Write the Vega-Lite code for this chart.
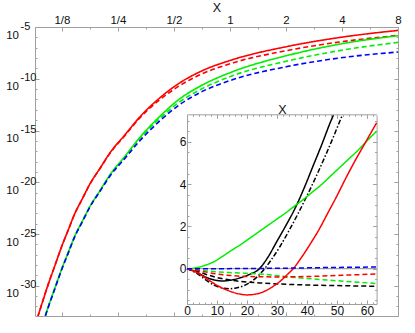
{
  "$schema": "https://vega.github.io/schema/vega-lite/v6.json",
  "width": 363,
  "height": 289,
  "autosize": {"type": "none"},
  "padding": {"left": 35, "top": 27, "right": 17, "bottom": 17},
  "background": "white",
  "config": {
    "view": {"stroke": null},
    "axis": {"domainColor": "#a0a0a0", "tickColor": "#a0a0a0", "labelColor": "#111111", "titleColor": "#111111", "labelFont": "Liberation Sans", "titleFont": "Liberation Sans", "titleFontWeight": "normal", "labelFontSize": 11.5, "titleFontSize": 12.5, "grid": false, "labelOverlap": false, "labelFlush": false}
  },
  "datasets": {
    "main": [
      {"curve": "red", "x": 8.0, "y": 4.69e-6}, {"curve": "red", "x": 4.05, "y": 1.08e-6}, {"curve": "red", "x": 2.03, "y": 1.30e-7}, {"curve": "red", "x": 1.039, "y": 7.19e-9}, {"curve": "red", "x": 0.6906, "y": 4.75e-10}, {"curve": "red", "x": 0.5325, "y": 3.59e-11}, {"curve": "red", "x": 0.421, "y": 1.49e-12}, {"curve": "red", "x": 0.3287, "y": 2.16e-14}, {"curve": "red", "x": 0.273, "y": 3.93e-16}, {"curve": "red", "x": 0.2267, "y": 7.13e-18}, {"curve": "red", "x": 0.2003, "y": 2.26e-19}, {"curve": "red", "x": 0.177, "y": 7.16e-21}, {"curve": "red", "x": 0.1603, "y": 2.22e-22}, {"curve": "red", "x": 0.147, "y": 1.05e-23}, {"curve": "red", "x": 0.1348, "y": 2.13e-25}, {"curve": "red", "x": 0.1247, "y": 6.32e-27}, {"curve": "red", "x": 0.1148, "y": 9.62e-29}, {"curve": "red", "x": 0.1053, "y": 1.22e-30}, {"curve": "red", "x": 0.0989, "y": 3.87e-32}, {"curve": "red", "x": 0.0927, "y": 1.00e-33}, {"curve": "red", "x": 0.0896, "y": 1.62e-34},
      {"curve": "red dashed", "x": 8.0, "y": 1.54e-6}, {"curve": "red dashed", "x": 4.05, "y": 3.96e-7}, {"curve": "red dashed", "x": 2.03, "y": 5.33e-8}, {"curve": "red dashed", "x": 1.039, "y": 3.45e-9}, {"curve": "red dashed", "x": 0.6906, "y": 2.44e-10}, {"curve": "red dashed", "x": 0.5325, "y": 1.97e-11}, {"curve": "red dashed", "x": 0.421, "y": 9.95e-13}, {"curve": "red dashed", "x": 0.3287, "y": 1.73e-14}, {"curve": "red dashed", "x": 0.273, "y": 3.36e-16}, {"curve": "red dashed", "x": 0.2267, "y": 6.38e-18}, {"curve": "red dashed", "x": 0.2003, "y": 2.11e-19}, {"curve": "red dashed", "x": 0.177, "y": 6.85e-21}, {"curve": "red dashed", "x": 0.1603, "y": 2.17e-22}, {"curve": "red dashed", "x": 0.147, "y": 1.05e-23}, {"curve": "red dashed", "x": 0.1348, "y": 2.13e-25}, {"curve": "red dashed", "x": 0.1247, "y": 6.32e-27}, {"curve": "red dashed", "x": 0.1148, "y": 9.62e-29}, {"curve": "red dashed", "x": 0.1053, "y": 1.22e-30}, {"curve": "red dashed", "x": 0.0989, "y": 3.87e-32}, {"curve": "red dashed", "x": 0.0927, "y": 1.00e-33}, {"curve": "red dashed", "x": 0.0896, "y": 1.62e-34},
      {"curve": "green", "x": 8.0, "y": 1.44e-6}, {"curve": "green", "x": 4.05, "y": 2.54e-7}, {"curve": "green", "x": 2.03, "y": 1.75e-8}, {"curve": "green", "x": 1.039, "y": 4.97e-10}, {"curve": "green", "x": 0.6906, "y": 1.88e-11}, {"curve": "green", "x": 0.5325, "y": 1.02e-12}, {"curve": "green", "x": 0.421, "y": 2.42e-14}, {"curve": "green", "x": 0.3287, "y": 2.25e-16}, {"curve": "green", "x": 0.273, "y": 3.27e-18}, {"curve": "green", "x": 0.2267, "y": 5.31e-20}, {"curve": "green", "x": 0.2003, "y": 1.57e-21}, {"curve": "green", "x": 0.177, "y": 4.78e-23}, {"curve": "green", "x": 0.1603, "y": 1.48e-24}, {"curve": "green", "x": 0.147, "y": 7.00e-26}, {"curve": "green", "x": 0.1348, "y": 1.42e-27}, {"curve": "green", "x": 0.1247, "y": 4.22e-29}, {"curve": "green", "x": 0.1148, "y": 6.41e-31}, {"curve": "green", "x": 0.1053, "y": 8.15e-33}, {"curve": "green", "x": 0.0989, "y": 2.58e-34},
      {"curve": "green dashed", "x": 8.0, "y": 3.24e-7}, {"curve": "green dashed", "x": 4.05, "y": 5.97e-8}, {"curve": "green dashed", "x": 2.03, "y": 5.15e-9}, {"curve": "green dashed", "x": 1.039, "y": 2.04e-10}, {"curve": "green dashed", "x": 0.6906, "y": 8.63e-12}, {"curve": "green dashed", "x": 0.5325, "y": 5.22e-13}, {"curve": "green dashed", "x": 0.421, "y": 1.55e-14}, {"curve": "green dashed", "x": 0.3287, "y": 1.80e-16}, {"curve": "green dashed", "x": 0.273, "y": 2.92e-18}, {"curve": "green dashed", "x": 0.2267, "y": 4.97e-20}, {"curve": "green dashed", "x": 0.2003, "y": 1.51e-21}, {"curve": "green dashed", "x": 0.177, "y": 4.78e-23}, {"curve": "green dashed", "x": 0.1603, "y": 1.48e-24}, {"curve": "green dashed", "x": 0.147, "y": 7.00e-26}, {"curve": "green dashed", "x": 0.1348, "y": 1.42e-27}, {"curve": "green dashed", "x": 0.1247, "y": 4.22e-29}, {"curve": "green dashed", "x": 0.1148, "y": 6.41e-31}, {"curve": "green dashed", "x": 0.1053, "y": 8.15e-33}, {"curve": "green dashed", "x": 0.0989, "y": 2.58e-34},
      {"curve": "blue dashed", "x": 8.0, "y": 3.82e-8}, {"curve": "blue dashed", "x": 4.05, "y": 1.12e-8}, {"curve": "blue dashed", "x": 2.03, "y": 1.51e-9}, {"curve": "blue dashed", "x": 1.039, "y": 8.38e-11}, {"curve": "blue dashed", "x": 0.6906, "y": 4.62e-12}, {"curve": "blue dashed", "x": 0.5325, "y": 2.86e-13}, {"curve": "blue dashed", "x": 0.421, "y": 8.87e-15}, {"curve": "blue dashed", "x": 0.3287, "y": 1.08e-16}, {"curve": "blue dashed", "x": 0.273, "y": 2.09e-18}, {"curve": "blue dashed", "x": 0.2267, "y": 4.06e-20}, {"curve": "blue dashed", "x": 0.2003, "y": 1.35e-21}, {"curve": "blue dashed", "x": 0.177, "y": 4.28e-23}, {"curve": "blue dashed", "x": 0.1603, "y": 1.32e-24}, {"curve": "blue dashed", "x": 0.147, "y": 6.27e-26}, {"curve": "blue dashed", "x": 0.1348, "y": 1.27e-27}, {"curve": "blue dashed", "x": 0.1247, "y": 3.77e-29}, {"curve": "blue dashed", "x": 0.1148, "y": 5.73e-31}, {"curve": "blue dashed", "x": 0.1053, "y": 7.29e-33}, {"curve": "blue dashed", "x": 0.0989, "y": 2.31e-34}
    ],
    "inset": [
      {"curve": "black", "x": 0, "y": 0}, {"curve": "black", "x": 3, "y": -0.15}, {"curve": "black", "x": 6, "y": -0.38}, {"curve": "black", "x": 9, "y": -0.53}, {"curve": "black", "x": 12, "y": -0.58}, {"curve": "black", "x": 15, "y": -0.53}, {"curve": "black", "x": 18, "y": -0.42}, {"curve": "black", "x": 21, "y": -0.26}, {"curve": "black", "x": 24, "y": -0.02}, {"curve": "black", "x": 27, "y": 0.55}, {"curve": "black", "x": 30, "y": 1.3}, {"curve": "black", "x": 33, "y": 2.05}, {"curve": "black", "x": 36, "y": 2.85}, {"curve": "black", "x": 39, "y": 3.8}, {"curve": "black", "x": 42, "y": 4.85}, {"curve": "black", "x": 45, "y": 5.9}, {"curve": "black", "x": 48, "y": 7.0}, {"curve": "black", "x": 48.8, "y": 7.26},
      {"curve": "black dash-dot", "x": 0, "y": 0}, {"curve": "black dash-dot", "x": 3, "y": -0.2}, {"curve": "black dash-dot", "x": 6, "y": -0.5}, {"curve": "black dash-dot", "x": 9, "y": -0.78}, {"curve": "black dash-dot", "x": 12, "y": -0.92}, {"curve": "black dash-dot", "x": 14, "y": -0.95}, {"curve": "black dash-dot", "x": 16, "y": -0.92}, {"curve": "black dash-dot", "x": 19, "y": -0.8}, {"curve": "black dash-dot", "x": 22, "y": -0.55}, {"curve": "black dash-dot", "x": 25, "y": -0.15}, {"curve": "black dash-dot", "x": 28, "y": 0.4}, {"curve": "black dash-dot", "x": 31, "y": 1.05}, {"curve": "black dash-dot", "x": 34, "y": 1.8}, {"curve": "black dash-dot", "x": 37, "y": 2.6}, {"curve": "black dash-dot", "x": 40, "y": 3.45}, {"curve": "black dash-dot", "x": 43, "y": 4.35}, {"curve": "black dash-dot", "x": 46, "y": 5.3}, {"curve": "black dash-dot", "x": 49, "y": 6.3}, {"curve": "black dash-dot", "x": 51, "y": 7.0}, {"curve": "black dash-dot", "x": 51.8, "y": 7.26},
      {"curve": "black dashed", "x": 0, "y": 0}, {"curve": "black dashed", "x": 3, "y": -0.1}, {"curve": "black dashed", "x": 6, "y": -0.25}, {"curve": "black dashed", "x": 10, "y": -0.42}, {"curve": "black dashed", "x": 15, "y": -0.55}, {"curve": "black dashed", "x": 20, "y": -0.63}, {"curve": "black dashed", "x": 25, "y": -0.68}, {"curve": "black dashed", "x": 30, "y": -0.72}, {"curve": "black dashed", "x": 40, "y": -0.77}, {"curve": "black dashed", "x": 50, "y": -0.8}, {"curve": "black dashed", "x": 63.2, "y": -0.83},
      {"curve": "green", "x": 0, "y": 0}, {"curve": "green", "x": 3, "y": 0.04}, {"curve": "green", "x": 6, "y": 0.16}, {"curve": "green", "x": 9, "y": 0.33}, {"curve": "green", "x": 12, "y": 0.6}, {"curve": "green", "x": 15, "y": 0.88}, {"curve": "green", "x": 18, "y": 1.15}, {"curve": "green", "x": 21, "y": 1.45}, {"curve": "green", "x": 24, "y": 1.75}, {"curve": "green", "x": 27, "y": 2.05}, {"curve": "green", "x": 30, "y": 2.35}, {"curve": "green", "x": 33, "y": 2.65}, {"curve": "green", "x": 36, "y": 2.98}, {"curve": "green", "x": 39, "y": 3.3}, {"curve": "green", "x": 42, "y": 3.65}, {"curve": "green", "x": 45, "y": 4.0}, {"curve": "green", "x": 48, "y": 4.4}, {"curve": "green", "x": 51, "y": 4.8}, {"curve": "green", "x": 54, "y": 5.2}, {"curve": "green", "x": 57, "y": 5.6}, {"curve": "green", "x": 60, "y": 6.05}, {"curve": "green", "x": 63.2, "y": 6.5},
      {"curve": "green dashed", "x": 0, "y": 0}, {"curve": "green dashed", "x": 5, "y": -0.08}, {"curve": "green dashed", "x": 10, "y": -0.15}, {"curve": "green dashed", "x": 15, "y": -0.19}, {"curve": "green dashed", "x": 20, "y": -0.22}, {"curve": "green dashed", "x": 25, "y": -0.26}, {"curve": "green dashed", "x": 30, "y": -0.33}, {"curve": "green dashed", "x": 35, "y": -0.4}, {"curve": "green dashed", "x": 40, "y": -0.46}, {"curve": "green dashed", "x": 50, "y": -0.57}, {"curve": "green dashed", "x": 63.2, "y": -0.7},
      {"curve": "red", "x": 0, "y": 0}, {"curve": "red", "x": 3, "y": -0.15}, {"curve": "red", "x": 6, "y": -0.42}, {"curve": "red", "x": 9, "y": -0.7}, {"curve": "red", "x": 12, "y": -0.93}, {"curve": "red", "x": 15, "y": -1.1}, {"curve": "red", "x": 18, "y": -1.21}, {"curve": "red", "x": 20, "y": -1.24}, {"curve": "red", "x": 22, "y": -1.22}, {"curve": "red", "x": 25, "y": -1.12}, {"curve": "red", "x": 28, "y": -0.9}, {"curve": "red", "x": 31, "y": -0.6}, {"curve": "red", "x": 34, "y": -0.2}, {"curve": "red", "x": 35.4, "y": 0}, {"curve": "red", "x": 38, "y": 0.5}, {"curve": "red", "x": 41, "y": 1.15}, {"curve": "red", "x": 44, "y": 1.85}, {"curve": "red", "x": 47, "y": 2.65}, {"curve": "red", "x": 50, "y": 3.45}, {"curve": "red", "x": 53, "y": 4.3}, {"curve": "red", "x": 56, "y": 5.1}, {"curve": "red", "x": 59, "y": 5.85}, {"curve": "red", "x": 61, "y": 6.35}, {"curve": "red", "x": 63.2, "y": 6.9},
      {"curve": "red dashed", "x": 0, "y": 0}, {"curve": "red dashed", "x": 3, "y": -0.06}, {"curve": "red dashed", "x": 6, "y": -0.15}, {"curve": "red dashed", "x": 10, "y": -0.25}, {"curve": "red dashed", "x": 15, "y": -0.33}, {"curve": "red dashed", "x": 20, "y": -0.37}, {"curve": "red dashed", "x": 25, "y": -0.38}, {"curve": "red dashed", "x": 30, "y": -0.39}, {"curve": "red dashed", "x": 40, "y": -0.37}, {"curve": "red dashed", "x": 50, "y": -0.32}, {"curve": "red dashed", "x": 63.2, "y": -0.25},
      {"curve": "blue dashed", "x": 0, "y": 0}, {"curve": "blue dashed", "x": 10, "y": 0.0}, {"curve": "blue dashed", "x": 20, "y": 0.01}, {"curve": "blue dashed", "x": 30, "y": 0.02}, {"curve": "blue dashed", "x": 40, "y": 0.04}, {"curve": "blue dashed", "x": 50, "y": 0.06}, {"curve": "blue dashed", "x": 63.2, "y": 0.08}
    ]
  },
  "layer": [
    {
      "data": {"name": "main"},
      "layer": [
        {
          "mark": {"type": "line", "clip": true, "strokeWidth": 1.6, "interpolate": "monotone"},
          "encoding": {
            "x": {"field": "x", "type": "quantitative", "scale": {"type": "log", "domain": [0.0896, 8], "nice": false},
                  "axis": {"orient": "top", "values": [0.125, 0.25, 0.5, 1, 2, 4, 8], "labelExpr": "datum.value < 1 ? '1/' + round(1/datum.value) : '' + round(datum.value)", "title": "X", "tickSize": -4, "labelPadding": 6, "titlePadding": -0.5}},
            "y": {"field": "y", "type": "quantitative", "scale": {"type": "log", "domain": [1.2e-33, 1e-5], "nice": false},
                  "axis": {"orient": "left", "values": [1e-5, 1e-10, 1e-15, 1e-20, 1e-25, 1e-30], "labelExpr": "'10'", "tickSize": -4, "labelPadding": 20.5, "labelOffset": 8, "labelAlign": "right", "labelBaseline": "middle", "title": null}},
            "color": {"field": "curve", "type": "nominal", "legend": null, "scale": {"domain": ["red", "red dashed", "green", "green dashed", "blue dashed", "black", "black dash-dot", "black dashed"], "range": ["#ff0000", "#ff0000", "#00ee00", "#00ee00", "#0000ff", "#000000", "#000000", "#000000"]}},
            "strokeDash": {"field": "curve", "type": "nominal", "legend": null, "scale": {"domain": ["red", "red dashed", "green", "green dashed", "blue dashed", "black", "black dash-dot", "black dashed"], "range": [[1, 0], [5, 3], [1, 0], [5, 3], [5, 3], [1, 0], [5, 2, 1.5, 2], [5, 3]]}}
          }
        },
        {
          "mark": {"type": "line", "opacity": 0},
          "encoding": {
            "x": {"field": "x", "type": "quantitative", "axis": {"orient": "bottom", "values": [0.125, 0.25, 0.5, 1, 2, 4, 8], "labels": false, "tickSize": -4, "title": null}},
            "y": {"field": "y", "type": "quantitative", "axis": {"orient": "left", "values": [1e-5, 1e-10, 1e-15, 1e-20, 1e-25, 1e-30], "labelExpr": "'' + round(log(datum.value)/LN10)", "ticks": false, "domain": false, "labelAlign": "left", "labelBaseline": "middle", "labelPadding": 15, "labelOffset": -1, "labelFontSize": 11, "title": null}}
          }
        },
        {
          "mark": {"type": "line", "opacity": 0},
          "encoding": {
            "x": {"field": "x", "type": "quantitative", "axis": {"orient": "top", "values": [0.1768, 0.3536, 0.7071, 1.4142, 2.8284, 5.6569], "labels": false, "domain": false, "tickSize": -2, "title": null}},
            "y": {"field": "y", "type": "quantitative", "axis": {"orient": "right", "values": [1e-5, 1e-10, 1e-15, 1e-20, 1e-25, 1e-30], "labels": false, "tickSize": -4, "title": null}}
          }
        },
        {
          "mark": {"type": "line", "opacity": 0},
          "encoding": {
            "x": {"field": "x", "type": "quantitative", "axis": {"orient": "bottom", "values": [0.1768, 0.3536, 0.7071, 1.4142, 2.8284, 5.6569], "labels": false, "domain": false, "tickSize": -2, "title": null}},
            "y": {"field": "y", "type": "quantitative", "axis": {"orient": "left", "values": [1e-6, 1e-7, 1e-8, 1e-9, 1e-11, 1e-12, 1e-13, 1e-14, 1e-16, 1e-17, 1e-18, 1e-19, 1e-21, 1e-22, 1e-23, 1e-24, 1e-26, 1e-27, 1e-28, 1e-29, 1e-31, 1e-32], "labels": false, "domain": false, "tickSize": -2, "title": null}}
          }
        },
        {
          "mark": {"type": "line", "opacity": 0},
          "encoding": {
            "x": {"field": "x", "type": "quantitative", "axis": null},
            "y": {"field": "y", "type": "quantitative", "axis": {"orient": "right", "values": [1e-6, 1e-7, 1e-8, 1e-9, 1e-11, 1e-12, 1e-13, 1e-14, 1e-16, 1e-17, 1e-18, 1e-19, 1e-21, 1e-22, 1e-23, 1e-24, 1e-26, 1e-27, 1e-28, 1e-29, 1e-31, 1e-32], "labels": false, "domain": false, "tickSize": -2, "title": null}}
          }
        }
      ],
      "resolve": {"axis": {"x": "independent", "y": "independent"}}
    },
    {
      "data": {"name": "inset"},
      "layer": [
        {
          "data": {"values": [{}]},
          "mark": {"type": "rule", "color": "#8c8c8c", "strokeWidth": 1},
          "encoding": {
            "x": {"datum": 0, "type": "quantitative", "axis": null},
            "x2": {"datum": 63.2},
            "y": {"datum": 0, "type": "quantitative", "axis": null}
          }
        },
        {
          "mark": {"type": "line", "strokeWidth": 1.5, "interpolate": "monotone"},
          "encoding": {
            "x": {"field": "x", "type": "quantitative", "scale": {"domain": [0, 63.2], "range": [152, 341.6], "nice": false, "zero": false},
                  "axis": {"orient": "bottom", "offset": -12, "values": [0, 10, 20, 30, 40, 50, 60], "tickSize": -4, "labelPadding": 5, "labelFontSize": 12, "title": null}},
            "y": {"field": "y", "type": "quantitative", "scale": {"domain": [-1.67, 7.26], "range": [277, 88.2], "nice": false, "zero": false},
                  "axis": {"orient": "left", "offset": -152, "values": [0, 2, 4, 6], "tickSize": -4, "labelPadding": 5, "labelFontSize": 12, "title": null}},
            "color": {"field": "curve", "type": "nominal", "legend": null, "scale": {"domain": ["red", "red dashed", "green", "green dashed", "blue dashed", "black", "black dash-dot", "black dashed"], "range": ["#ff0000", "#ff0000", "#00ee00", "#00ee00", "#0000ff", "#000000", "#000000", "#000000"]}},
            "strokeDash": {"field": "curve", "type": "nominal", "legend": null, "scale": {"domain": ["red", "red dashed", "green", "green dashed", "blue dashed", "black", "black dash-dot", "black dashed"], "range": [[1, 0], [5, 3], [1, 0], [5, 3], [5, 3], [1, 0], [5, 2, 1.5, 2], [5, 3]]}}
          }
        },
        {
          "mark": {"type": "line", "opacity": 0},
          "encoding": {
            "x": {"field": "x", "type": "quantitative", "axis": {"orient": "top", "offset": -87.3, "values": [0, 10, 20, 30, 40, 50, 60], "labels": false, "tickSize": -4, "title": "X", "titlePadding": -3}},
            "y": {"field": "y", "type": "quantitative", "axis": {"orient": "right", "offset": -21.4, "values": [0, 2, 4, 6], "labels": false, "tickSize": -4, "title": null}}
          }
        },
        {
          "mark": {"type": "line", "opacity": 0},
          "encoding": {
            "x": {"field": "x", "type": "quantitative", "axis": {"orient": "bottom", "offset": -12, "values": [2, 4, 6, 8, 12, 14, 16, 18, 22, 24, 26, 28, 32, 34, 36, 38, 42, 44, 46, 48, 52, 54, 56, 58, 62], "labels": false, "domain": false, "tickSize": -2, "title": null}},
            "y": {"field": "y", "type": "quantitative", "axis": {"orient": "left", "offset": -152, "values": [-1.5, -1, -0.5, 0.5, 1, 1.5, 2.5, 3, 3.5, 4.5, 5, 5.5, 6.5, 7], "labels": false, "domain": false, "tickSize": -2, "title": null}}
          }
        },
        {
          "mark": {"type": "line", "opacity": 0},
          "encoding": {
            "x": {"field": "x", "type": "quantitative", "axis": {"orient": "top", "offset": -87.3, "values": [2, 4, 6, 8, 12, 14, 16, 18, 22, 24, 26, 28, 32, 34, 36, 38, 42, 44, 46, 48, 52, 54, 56, 58, 62], "labels": false, "domain": false, "tickSize": -2, "title": null}},
            "y": {"field": "y", "type": "quantitative", "axis": {"orient": "right", "offset": -21.4, "values": [-1.5, -1, -0.5, 0.5, 1, 1.5, 2.5, 3, 3.5, 4.5, 5, 5.5, 6.5, 7], "labels": false, "domain": false, "tickSize": -2, "title": null}}
          }
        }
      ],
      "resolve": {"axis": {"x": "independent", "y": "independent"}}
    }
  ],
  "resolve": {"scale": {"x": "independent", "y": "independent"}, "axis": {"x": "independent", "y": "independent"}}
}
